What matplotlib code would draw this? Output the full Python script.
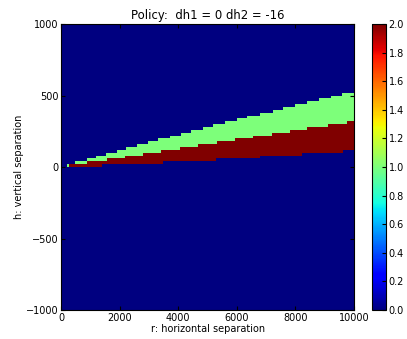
import numpy as np
import matplotlib
matplotlib.use("Agg")
import matplotlib.pyplot as plt

# policy boundaries: each level holds from its r start onward
red_bottom_r = [200, 1410, 3490, 5300, 6800, 8230, 9630]
red_bottom_h = [0, 20, 40, 60, 80, 100, 120]

red_top_r = [200, 280, 907, 1570, 2190, 2790, 3420, 4060, 4680, 5320, 5920,
             6555, 7200, 7820, 8400, 9110, 9760]
red_top_h = [0, 20, 40, 60, 80, 100, 120, 140, 160, 180, 200,
             220, 240, 260, 280, 300, 320]

green_top_r = [200, 465, 900, 1200, 1520, 1900, 2220, 2580, 2960, 3320, 3720,
               4100, 4450, 4840, 5200, 5600, 6000, 6350, 6790, 7230, 7580,
               8010, 8400, 8800, 9200, 9610]
green_top_h = [20, 40, 60, 80, 100, 120, 140, 160, 180, 200, 220,
               240, 260, 280, 300, 320, 340, 360, 380, 400, 420,
               440, 460, 480, 500, 520]

title = "Policy:  dh1 = 0 dh2 = -16"

r_edges = np.linspace(0, 10000, 501)
h_edges = np.linspace(-1000, 1000, 101)
r_mid = (r_edges[:-1] + r_edges[1:]) / 2
h_mid = (h_edges[:-1] + h_edges[1:]) / 2


def level(starts, values, r):
    i = np.searchsorted(starts, r, side="right") - 1
    out = np.where(i >= 0, np.asarray(values)[np.clip(i, 0, None)], np.nan)
    return out


rb = level(red_bottom_r, red_bottom_h, r_mid)
rt = level(red_top_r, red_top_h, r_mid)
gt = level(green_top_r, green_top_h, r_mid)

H, RB = np.meshgrid(h_mid, rb, indexing="ij")
_, RT = np.meshgrid(h_mid, rt, indexing="ij")
_, GT = np.meshgrid(h_mid, gt, indexing="ij")

policy = np.zeros((len(h_mid), len(r_mid)))
policy[(H >= RT) & (H < GT)] = 1
policy[(H >= RB) & (H < RT)] = 2

fig = plt.figure(figsize=(4.07, 3.39), dpi=100)
ax = fig.add_axes([0.150, 0.0855, 0.720, 0.8435])
cax = fig.add_axes([0.915, 0.0855, 0.033, 0.8435])

mesh = ax.pcolormesh(r_edges, h_edges, policy, cmap="jet", vmin=0, vmax=2)
ax.set_xlim(0, 10000)
ax.set_ylim(-1000, 1000)
ax.set_xticks([0, 2000, 4000, 6000, 8000, 10000])
ax.set_yticks([-1000, -500, 0, 500, 1000])
ax.tick_params(direction="in", top=True, right=True, labelsize=7, length=3, pad=2)
ax.set_xlabel("r: horizontal separation", fontsize=7, labelpad=1)
ax.set_ylabel("h: vertical separation", fontsize=7, labelpad=1)
ax.set_title(title, fontsize=8.4, pad=4)

cb = fig.colorbar(mesh, cax=cax, ticks=np.arange(0, 2.01, 0.2))
cb.ax.set_yticklabels(["%.1f" % t for t in np.arange(0, 2.01, 0.2)])
cb.ax.tick_params(direction="in", labelsize=7, length=3, pad=2)

fig.savefig("out.png", dpi=100)
